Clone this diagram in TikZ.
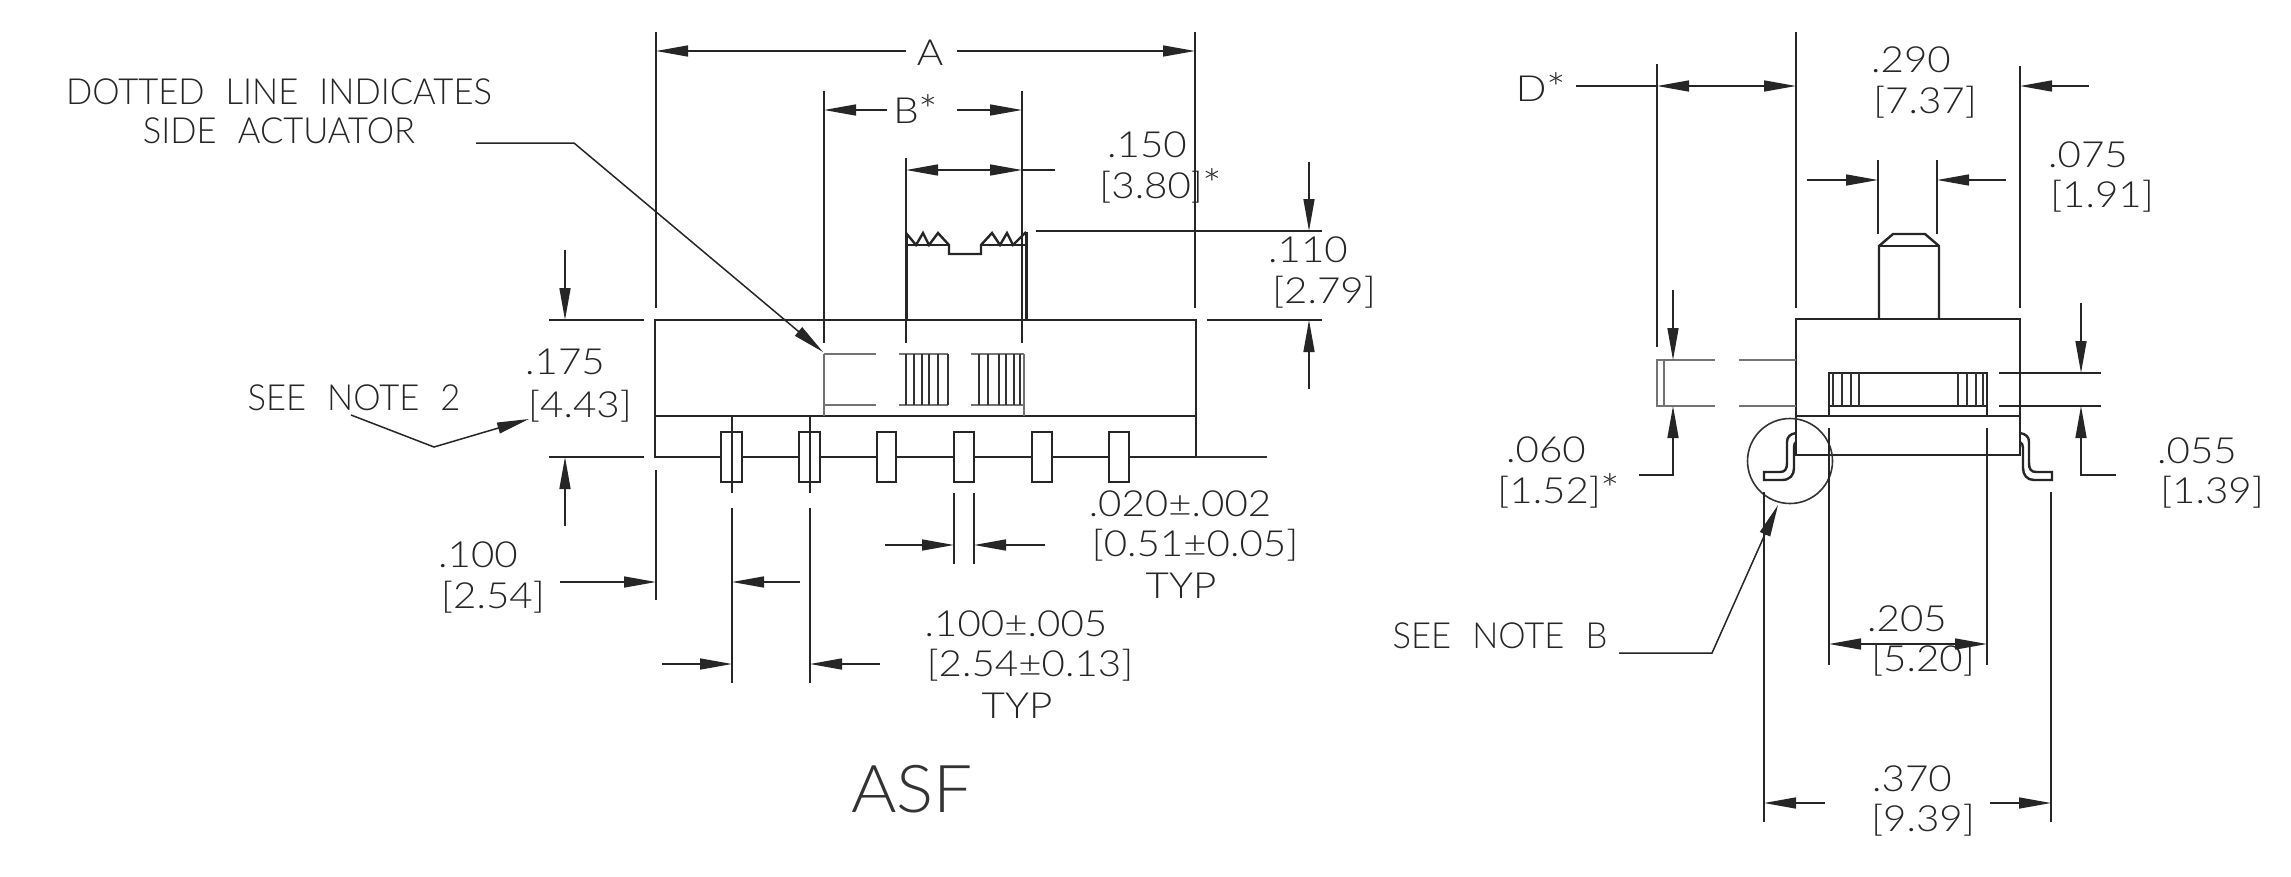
\documentclass[tikz,border=0pt]{standalone}
\usepackage{graphicx}
\usepackage{fontspec}
\setmainfont{Lato}[UprightFont=* Light]
\usetikzlibrary{arrows.meta}
\newcommand{\dt}[1]{\scalebox{1.12}[1]{#1}}
\newcommand{\wtxt}[1]{\scalebox{.96}[1]{#1}}
\newcommand{\wgap}{\hspace*{22pt}}
\newcommand{\starmk}{\raisebox{-.05em}{\scalebox{1.15}{*}}}
\tikzset{
  every node/.style={inner sep=0pt,outer sep=0pt},
  lab/.style={font=\fontsize{36}{36}\selectfont,anchor=center,text=black!85},
  big/.style={font=\fontsize{66}{66}\selectfont,anchor=center,text=black!80},
  thick part/.style={line width=2.4pt,black!85,line join=miter},
  heavy part/.style={line width=3pt,black!85,line join=miter},
  thin part/.style={line width=1.6pt,black!80},
  hidden/.style={line width=1.5pt,black!55},
  ext/.style={line width=1.5pt,black!85},
  dim/.style={line width=1.5pt,black!85,-{Triangle[length=32pt,width=11pt]}},
  dimb/.style={line width=1.5pt,black!85,{Triangle[length=32pt,width=11pt]}-{Triangle[length=32pt,width=11pt]}},
}
\begin{document}
\begin{tikzpicture}[x=1pt,y=-1pt]
\useasboundingbox[fill=white] (0,0) rectangle (2291,876);
% ---------- left view ----------
\draw[thick part] (655,320) rectangle (1196,457);
\draw[thick part] (655,416) -- (1196,416);
\draw[thin part] (1196,457) -- (1267,457);
\foreach \a/\b in {721/742,799/820,877/896,954/974,1032/1052,1109/1129}
  \draw[thick part,fill=white] (\a,432) rectangle (\b,482);
% actuator
\draw[thick part] (906,233) -- (916,245) -- (923,233) -- (929,245) -- (938,233) -- (949,245) -- (949,254) -- (981,254) -- (981,245) -- (992,233) -- (1000,245) -- (1007,233) -- (1013,245) -- (1026,232);
\draw[heavy part] (906,320) -- (906,233) (1026,232) -- (1026,320);
\draw[thick part] (906,245) -- (949,245) (981,245) -- (1026,245);
% hidden ribs
\draw[hidden] (824,354) -- (824,416) (824,354) -- (876,354) (824,405) -- (876,405);
\draw[hidden] (899,354) -- (948,354) (899,405) -- (948,405);
\draw[hidden] (971,354) -- (1024,354) (971,405) -- (1024,405);
\foreach \x in {906,914,922,929,938,948,979,988,999,1006,1014,1020}
  \draw[thin part] (\x,354) -- (\x,405);
\draw[hidden] (1024,354) -- (1024,416);
% extension lines
\draw[ext] (656,32) -- (656,308) (656,470) -- (656,600);
\draw[ext] (1195,32) -- (1195,308);
\draw[ext] (824,91) -- (824,343);
\draw[ext] (1022,91) -- (1022,343);
\draw[ext] (906,158) -- (906,343);
\draw[ext] (1036,231) -- (1322,231);
\draw[ext] (1207,320) -- (1322,320);
\draw[ext] (549,320) -- (644,320) (549,457) -- (644,457);
\draw[ext] (732,416) -- (732,493) (732,508) -- (732,683);
\draw[ext] (810,416) -- (810,493) (810,508) -- (810,683);
\draw[ext] (954,493) -- (954,564) (974,493) -- (974,564);
% dimensions left
\draw[dim] (906,51) -- (656,51);
\draw[dim] (957,51) -- (1195,51);
\draw[dim] (887,110) -- (824,110);
\draw[dim] (957,110) -- (1022,110);
\draw[dimb] (906,170) -- (1022,170);
\draw[ext] (1022,170) -- (1055,170);
\draw[dim] (1309,162) -- (1309,231);
\draw[dim] (1309,389) -- (1309,320);
\draw[dim] (565,250) -- (565,320);
\draw[dim] (565,526) -- (565,457);
\draw[dim] (560,582) -- (656,582);
\draw[dim] (800,582) -- (732,582);
\draw[dim] (662,664) -- (732,664);
\draw[dim] (880,664) -- (810,664);
\draw[dim] (885,545) -- (954,545);
\draw[dim] (1045,545) -- (974,545);
% leaders
\draw[dim] (476,143) -- (574,143) -- (823,352);
\draw[dim] (351,415) -- (434,447) -- (529,419);
% ---------- right view ----------
\draw[thick part] (1796,319) rectangle (2020,455);
\draw[thick part] (1796,416) -- (2020,416);
\draw[thick part] (1879,319) -- (1879,246) -- (1893,234) -- (1925,234) -- (1939,246) -- (1939,319);
\draw[thick part] (1879,246) -- (1939,246);
\draw[thick part] (1829,416) -- (1829,373) -- (1987,373) -- (1987,416);
\draw[thick part] (1829,406) -- (1987,406);
\foreach \x in {1833,1842,1851,1859,1958,1967,1976,1983}
  \draw[thin part] (\x,373) -- (\x,406);
\draw[thick part] (1796,433) .. controls (1790,434) and (1787,437) .. (1787,442) -- (1787,463) .. controls (1787,469) and (1785,472) .. (1780,472) -- (1764,472) -- (1764,480) -- (1782,480) .. controls (1790,480) and (1794,475) .. (1794,468) -- (1794,447) .. controls (1794,444) and (1795,443) .. (1796,442);
\draw[thick part] (2020,433) .. controls (2026,434) and (2029,437) .. (2029,442) -- (2029,463) .. controls (2029,469) and (2031,472) .. (2036,472) -- (2052,472) -- (2052,480) -- (2034,480) .. controls (2027,480) and (2023,475) .. (2023,468) -- (2023,448) .. controls (2023,445) and (2022,443) .. (2020,442);
\draw[thin part] (1790,461) circle[radius=42.5];
% side actuator
\draw[hidden] (1657,360) rectangle (1664,406);
\draw[hidden] (1664,360) -- (1715,360) (1664,406) -- (1715,406);
\draw[hidden] (1739,360) -- (1796,360) (1739,406) -- (1796,406);
% extension right
\draw[ext] (1657,64) -- (1657,347);
\draw[ext] (1796,32) -- (1796,308);
\draw[ext] (2020,66) -- (2020,308);
\draw[ext] (1878,160) -- (1878,234) (1937,160) -- (1937,234);
\draw[ext] (1999,373) -- (2101,373) (1999,406) -- (2101,406);
\draw[ext] (1829,428) -- (1829,665) (1987,428) -- (1987,665);
\draw[ext] (1764,492) -- (1764,822) (2051,492) -- (2051,822);
% dimensions right
\draw[ext] (1576,86) -- (1657,86);
\draw[dimb] (1657,86) -- (1796,86);
\draw[dim] (2089,86) -- (2020,86);
\draw[dim] (1807,180) -- (1878,180);
\draw[dim] (2006,180) -- (1937,180);
\draw[dim] (1673,290) -- (1673,360);
\draw[dim] (1639,475) -- (1673,475) -- (1673,406);
\draw[dim] (2116,475) -- (2081,475) -- (2081,406);
\draw[dim] (2081,303) -- (2081,373);
\draw[dimb] (1829,644) -- (1987,644);
\draw[dim] (1825,803) -- (1764,803);
\draw[dim] (1990,803) -- (2051,803);
\draw[dim] (1619,653) -- (1712,653) -- (1778,505);
% ---------- labels ----------
\node[lab] (dotted) at (279,92) {\wtxt{DOTTED\wgap LINE\wgap INDICATES}};
\node[lab] (sideact) at (279,131) {\wtxt{SIDE\wgap ACTUATOR}};
\node[lab] (dimA) at (930,53) {\dt{A}};
\node[lab] (dimB) at (916,110) {\dt{B\starmk}};
\node[lab] (t150) at (1147,145) {\dt{.150}};
\node[lab] (t380) at (1161,186) {\dt{[3.80]\starmk}};
\node[lab] (t110) at (1308,250) {\dt{.110}};
\node[lab] (t279) at (1324,292) {\dt{[2.79]}};
\node[lab] (note2) at (354,398) {\wtxt{SEE\wgap NOTE\wgap 2}};
\node[lab] (t175) at (565,362) {\dt{.175}};
\node[lab] (t443) at (580,406) {\dt{[4.43]}};
\node[lab] (t100) at (478,555) {\dt{.100}};
\node[lab] (t254) at (493,597) {\dt{[2.54]}};
\node[lab] (t020) at (1180,504) {\dt{.020±.002}};
\node[lab] (t051) at (1195,545) {\dt{[0.51±0.05]}};
\node[lab] (typa) at (1181,586) {\dt{TYP}};
\node[lab] (t100b) at (1016,624) {\dt{.100±.005}};
\node[lab] (t254b) at (1030,665) {\dt{[2.54±0.13]}};
\node[lab] (typb) at (1017,706) {\dt{TYP}};
\node[big] (asf) at (912,789) {\scalebox{1.05}[1]{ASF}};
\node[lab] (dimD) at (1541,88) {\dt{D\starmk}};
\node[lab] (t290) at (1911,60) {\dt{.290}};
\node[lab] (t737) at (1925,102) {\dt{[7.37]}};
\node[lab] (t075) at (2088,155) {\dt{.075}};
\node[lab] (t191) at (2102,196) {\dt{[1.91]}};
\node[lab] (t060) at (1546,450) {\dt{.060}};
\node[lab] (t152) at (1559,491) {\dt{[1.52]\starmk}};
\node[lab] (t055) at (2197,451) {\dt{.055}};
\node[lab] (t139) at (2212,492) {\dt{[1.39]}};
\node[lab] (noteB) at (1500,636) {\wtxt{SEE\wgap NOTE\wgap B}};
\node[lab] (t205) at (1907,619) {\dt{.205}};
\node[lab] (t520) at (1923,660) {\dt{[5.20]}};
\node[lab] (t370) at (1912,779) {\dt{.370}};
\node[lab] (t939) at (1923,820) {\dt{[9.39]}};
\end{tikzpicture}
\end{document}
